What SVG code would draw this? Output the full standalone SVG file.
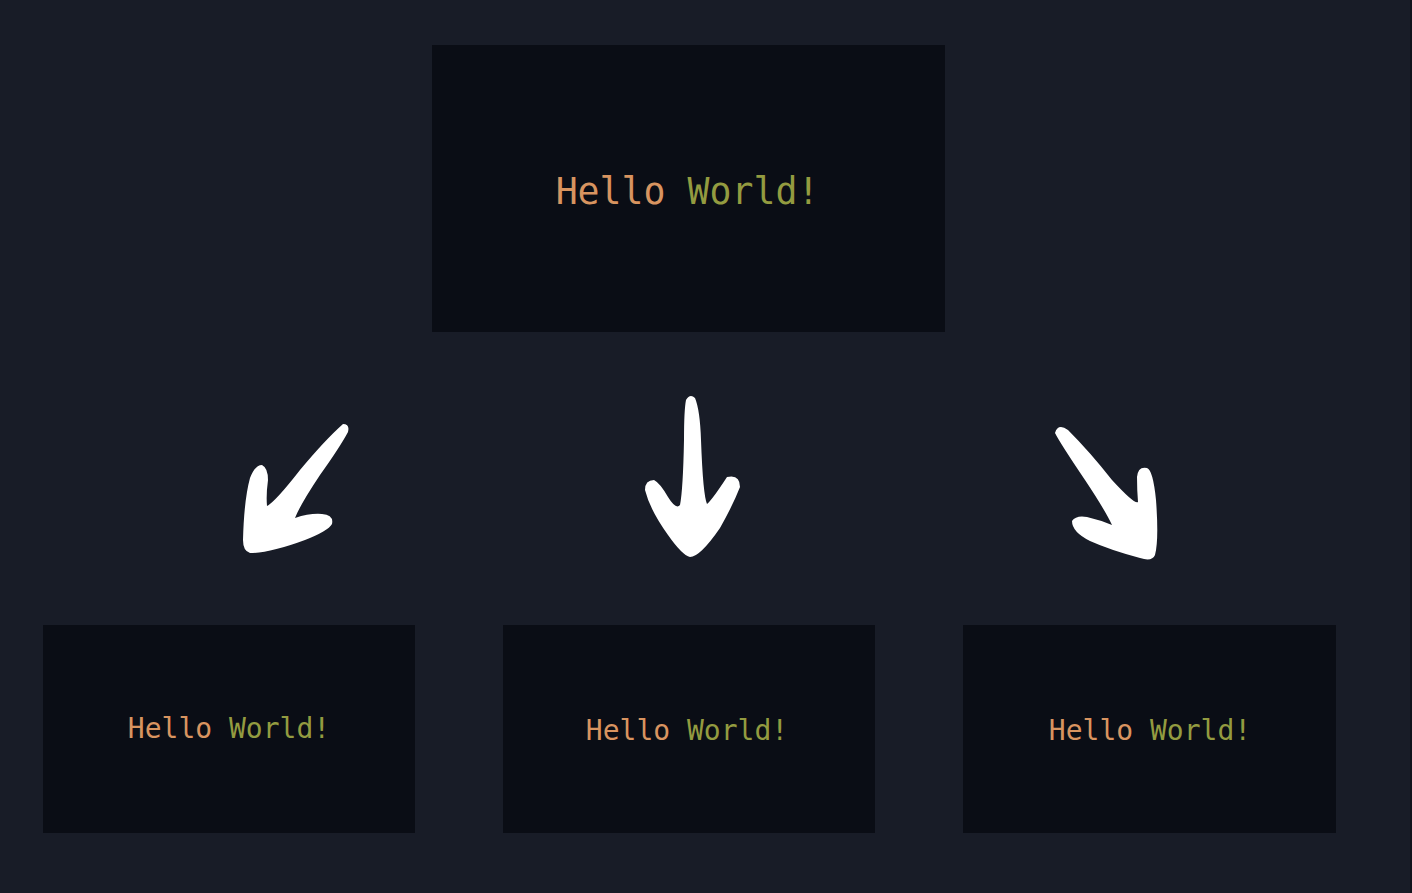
<svg xmlns="http://www.w3.org/2000/svg" width="1412" height="893" viewBox="0 0 1412 893">
<style>
.box{fill:#0a0d15}
.t{font-family:"DejaVu Sans Mono","Liberation Mono",monospace;text-anchor:middle}
.h{fill:#d89460}
.w{fill:#939b40}
.arrow{fill:#ffffff}
</style>
<rect x="0" y="0" width="1412" height="893" fill="#181c27"/>
<rect x="1410" y="0" width="2" height="893" fill="#10131b"/>
<g id="node-top">
<rect class="box" x="432" y="45" width="513" height="287"/>
<text class="t" x="687.5" y="204" font-size="36.5"><tspan class="h">Hello</tspan> <tspan class="w">World!</tspan></text>
</g>
<g id="node-left">
<rect class="box" x="43" y="625" width="372" height="208"/>
<text class="t" x="229" y="738" font-size="28"><tspan class="h">Hello</tspan> <tspan class="w">World!</tspan></text>
</g>
<g id="node-middle">
<rect class="box" x="503" y="625" width="372" height="208"/>
<text class="t" x="687" y="740" font-size="28"><tspan class="h">Hello</tspan> <tspan class="w">World!</tspan></text>
</g>
<g id="node-right">
<rect class="box" x="963" y="625" width="373" height="208"/>
<text class="t" x="1150" y="740" font-size="28"><tspan class="h">Hello</tspan> <tspan class="w">World!</tspan></text>
</g>
<g id="connectors">
<path class="arrow" d="M 343,424 Q 350,424 348,432 Q 340,447 320,475 Q 300,505 295,518 Q 310,513 322,514 Q 334,515 332,524 Q 328,531 305,540 Q 270,553 250,553 Q 243,551 243,540 Q 244,500 250,478 Q 255,465 262,465 Q 268,468 268,480 Q 266,495 267,506 Q 275,502 300,470 Q 325,440 343,424 Z"/>
<path class="arrow" d="M 686,400 Q 690,393 695,398 Q 700,410 701,440 Q 703,495 707,504 Q 712,500 727,477 Q 740,474 740,487 Q 733,505 720,528 Q 700,557 690,557 Q 682,555 668,535 Q 650,510 645,490 Q 645,480 654,480 Q 660,483 668,497 Q 676,510 680,505 Q 683,490 684,440 Q 684,410 686,400 Z"/>
<path class="arrow" d="M 1055,433 Q 1058,423 1068,430 Q 1090,452 1112,480 Q 1135,505 1138,502 Q 1137,490 1137,477 Q 1138,466 1147,468 Q 1153,470 1156,500 Q 1159,540 1155,555 Q 1152,562 1140,558 Q 1110,550 1090,541 Q 1072,532 1072,521 Q 1076,515 1087,517 Q 1100,520 1112,525 Q 1105,510 1085,480 Q 1060,443 1055,433 Z"/>
</g>
</svg>
